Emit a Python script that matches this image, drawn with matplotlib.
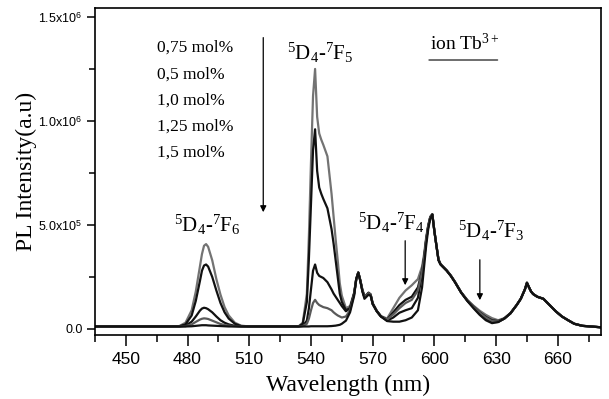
import numpy as np
import matplotlib
matplotlib.use('Agg')
import matplotlib.pyplot as plt
from matplotlib.ticker import MultipleLocator, FixedLocator, FixedFormatter

# wavelength grid (nm)
wavelength = [435, 450, 470, 476, 479, 482, 484, 486, 487, 488,
              489, 490, 492, 494, 496, 498, 500, 503, 506, 510,
              520, 530, 534, 536, 538, 539, 540, 541, 542, 543,
              544, 545, 546, 548, 550, 551, 552, 553, 554, 555,
              557, 559, 561, 562, 563, 564, 565, 566, 567, 568,
              569, 570, 572, 574, 577, 580, 583, 586, 589, 592,
              594, 595, 596, 597, 598, 599, 600, 601, 602, 603,
              604, 606, 608, 610, 613, 616, 619, 622, 625, 628,
              631, 634, 637, 640, 642, 644, 645, 646, 647, 648,
              650, 653, 656, 659, 662, 665, 668, 672, 676, 681]

# PL intensity in units of 1e3
pl_075 = [12, 12, 12, 14, 30, 90, 180, 300, 360, 400,
          408, 395, 330, 240, 165, 105, 65, 30, 16, 12,
          12, 12, 13, 30, 170, 450, 800, 1120, 1250, 1020,
          940, 910, 885, 830, 650, 540, 430, 330, 220, 160,
          100, 110, 175, 240, 272, 235, 190, 160, 165, 175,
          165, 125, 88, 62, 50, 100, 150, 185, 210, 240,
          300, 360, 440, 500, 540, 552, 470, 400, 335, 312,
          302, 282, 257, 227, 177, 140, 112, 88, 68, 52,
          42, 52, 77, 115, 145, 190, 222, 200, 180, 168,
          155, 145, 115, 85, 60, 42, 25, 15, 12, 8]
pl_05 = [12, 12, 12, 13, 22, 65, 135, 230, 280, 305,
         310, 300, 250, 185, 125, 80, 50, 25, 14, 12,
         12, 12, 12, 25, 130, 340, 600, 860, 960, 760,
         680, 650, 625, 580, 480, 410, 330, 250, 170, 130,
         90, 100, 172, 240, 272, 233, 186, 155, 162, 174,
         166, 122, 86, 61, 45, 80, 115, 140, 155, 200,
         280, 345, 430, 495, 538, 551, 470, 400, 333, 311,
         301, 281, 256, 226, 176, 138, 108, 80, 58, 42,
         38, 50, 76, 115, 145, 190, 222, 200, 180, 168,
         155, 145, 115, 85, 60, 42, 25, 15, 12, 8]
pl_10 = [12, 12, 12, 12, 16, 35, 60, 88, 98, 102,
         100, 95, 80, 60, 42, 30, 22, 15, 12, 12,
         12, 12, 12, 15, 40, 100, 190, 280, 310, 270,
         255, 250, 245, 225, 190, 170, 155, 140, 125, 110,
         85, 100, 170, 238, 271, 232, 184, 153, 160, 172,
         165, 120, 85, 60, 40, 55, 78, 90, 100, 150,
         265, 335, 425, 492, 536, 550, 470, 400, 332, 310,
         300, 280, 255, 225, 175, 135, 103, 72, 48, 33,
         34, 50, 75, 115, 145, 190, 222, 200, 180, 168,
         155, 145, 115, 85, 60, 42, 25, 15, 12, 8]
pl_125 = [12, 12, 12, 12, 13, 22, 34, 45, 49, 51,
          50, 48, 40, 32, 24, 19, 16, 13, 12, 12,
          12, 12, 12, 14, 25, 50, 90, 125, 140, 125,
          115, 110, 105, 100, 90, 80, 72, 65, 60, 55,
          60, 90, 168, 238, 271, 232, 184, 153, 160, 172,
          165, 120, 85, 60, 45, 70, 100, 125, 140, 185,
          275, 340, 428, 494, 537, 551, 470, 400, 332, 311,
          301, 281, 256, 226, 176, 137, 106, 78, 55, 38,
          36, 50, 75, 115, 145, 190, 222, 200, 180, 168,
          155, 145, 115, 85, 60, 42, 25, 15, 12, 8]
pl_15 = [12, 12, 12, 12, 12, 13, 15, 17, 18, 18,
         18, 17, 16, 15, 14, 13, 12, 12, 12, 12,
         12, 12, 12, 12, 12, 12, 13, 13, 13, 13,
         13, 13, 13, 13, 14, 15, 16, 18, 20, 25,
         40, 80, 160, 240, 270, 230, 180, 145, 155, 165,
         160, 120, 85, 60, 38, 35, 35, 42, 55, 90,
         200, 300, 400, 480, 530, 550, 470, 400, 330, 310,
         300, 280, 255, 225, 175, 135, 100, 68, 42, 28,
         33, 50, 75, 115, 145, 190, 222, 200, 180, 168,
         155, 145, 115, 85, 60, 42, 25, 15, 12, 8]

series = [pl_075, pl_05, pl_10, pl_125, pl_15]
colors = ['#737373', '#111111', '#111111', '#5a5a5a', '#111111']
legend_text = ['0,75 mol%', '0,5 mol%', '1,0 mol%', '1,25 mol%', '1,5 mol%']

y_ticks = [0, 5e5, 1e6, 1.5e6]
y_tick_labels = ['0.0', r'5.0x10$^{\mathsf{5}}$', r'1.0x10$^{\mathsf{6}}$', r'1.5x10$^{\mathsf{6}}$']

plt.rcParams['font.family'] = 'Liberation Serif'
plt.rcParams['mathtext.fontset'] = 'custom'
plt.rcParams['mathtext.rm'] = 'Liberation Serif'
plt.rcParams['mathtext.it'] = 'Liberation Serif:italic'
plt.rcParams['mathtext.sf'] = 'Liberation Sans'

fig = plt.figure(figsize=(6.09, 3.99), dpi=100)
ax = fig.add_axes([95 / 609, 1 - 335 / 399, 506 / 609, 327 / 399])

for vals, color in zip(series, colors):
    ax.plot(wavelength, np.array(vals) * 1e3, color=color, lw=1.6)

ax.set_xlim(435, 681)
ax.set_ylim(-0.029e6, 1.543e6)

ax.xaxis.set_major_locator(MultipleLocator(30))
ax.xaxis.set_minor_locator(MultipleLocator(15))
ax.yaxis.set_major_locator(FixedLocator(y_ticks))
ax.yaxis.set_major_formatter(FixedFormatter(y_tick_labels))
ax.yaxis.set_minor_locator(MultipleLocator(2.5e5))

ax.tick_params(axis='x', which='major', direction='out', length=8, width=1.1, labelsize=12.5, pad=4)
ax.tick_params(axis='x', which='minor', direction='out', length=5, width=1.1)
ax.tick_params(axis='y', which='major', direction='out', length=6, width=1.1, labelsize=9, pad=3)
ax.tick_params(axis='y', which='minor', direction='out', length=4, width=1.1)
for lab in ax.get_xticklabels() + ax.get_yticklabels():
    lab.set_fontfamily('Liberation Sans')
for sp in ax.spines.values():
    sp.set_linewidth(1.2)

ax.set_xlabel('Wavelength (nm)', fontsize=17, labelpad=6)
ax.set_ylabel('PL Intensity(a.u)', fontsize=17, labelpad=1)

# concentration list and arrow
for i, t in enumerate(legend_text):
    ax.text(465, 1.351e6 - i * 0.126e6, t, fontsize=12.5, ha='left', va='center')
ax.annotate('', xy=(516.8, 0.548e6), xytext=(516.8, 1.414e6),
            arrowprops=dict(arrowstyle='-|>', color='black', lw=0.9, mutation_scale=9))

# transition labels
ax.text(489.4, 0.466e6, r'$^{5}$D$_{4}$-$^{7}$F$_{6}$', fontsize=15, ha='center', va='baseline')
ax.text(544.6, 1.293e6, r'$^{5}$D$_{4}$-$^{7}$F$_{5}$', fontsize=15, ha='center', va='baseline')
ax.text(579.2, 0.476e6, r'$^{5}$D$_{4}$-$^{7}$F$_{4}$', fontsize=15, ha='center', va='baseline')
ax.text(627.8, 0.4375e6, r'$^{5}$D$_{4}$-$^{7}$F$_{3}$', fontsize=15, ha='center', va='baseline')
ax.annotate('', xy=(585.8, 0.197e6), xytext=(585.8, 0.4375e6),
            arrowprops=dict(arrowstyle='-|>', color='black', lw=0.9, mutation_scale=9))
ax.annotate('', xy=(622.1, 0.125e6), xytext=(622.1, 0.346e6),
            arrowprops=dict(arrowstyle='-|>', color='black', lw=0.9, mutation_scale=9))

# ion label with underline
ax.text(614.5, 1.341e6, r'ion Tb$^{3+}$', fontsize=14, ha='center', va='baseline')
ax.annotate('', xy=(632.0, 1.293e6), xytext=(596.1, 1.293e6),
            arrowprops=dict(arrowstyle='-', color='#555555', lw=1.2))

fig.savefig('out.png', dpi=100)
